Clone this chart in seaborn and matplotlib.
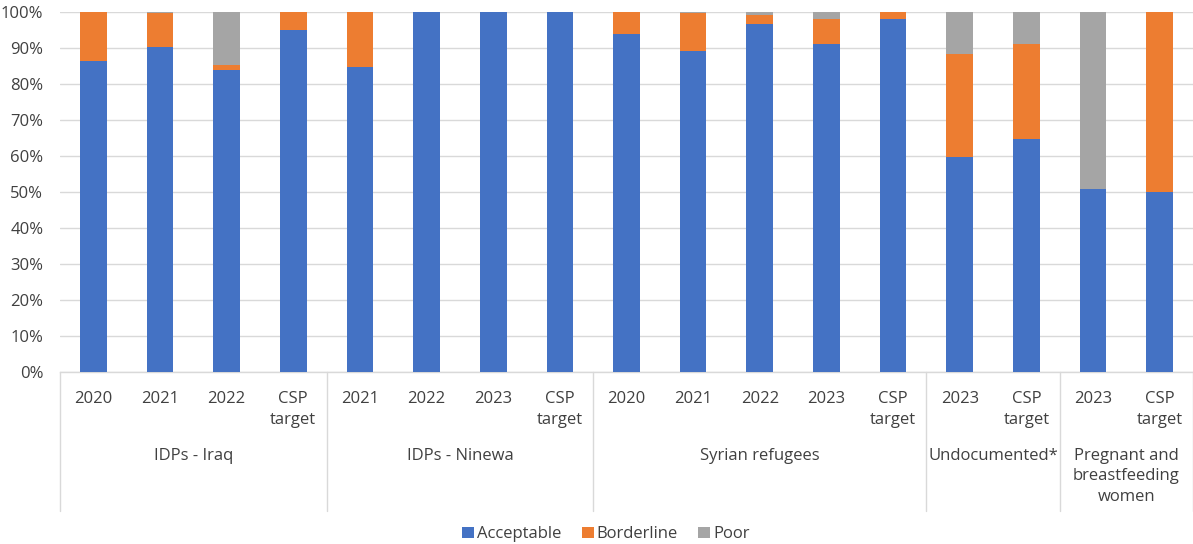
import matplotlib
matplotlib.use("Agg")
import matplotlib.pyplot as plt
import matplotlib.transforms as mtransforms
from matplotlib.patches import Patch
import numpy as np
import pandas as pd
import seaborn as sns

# ---- data ----
groups = ["IDPs - Iraq", "IDPs - Ninewa", "Syrian refugees", "Undocumented*",
          "Pregnant and\nbreastfeeding\nwomen"]
group_sizes = [4, 4, 5, 2, 2]
sub_labels = ["2020", "2021", "2022", "CSP\ntarget",
              "2021", "2022", "2023", "CSP\ntarget",
              "2020", "2021", "2022", "2023", "CSP\ntarget",
              "2023", "CSP\ntarget",
              "2023", "CSP\ntarget"]
acceptable = [86.4, 90.2, 83.9, 95.0,
              84.8, 100.0, 100.0, 100.0,
              93.8, 89.2, 96.7, 91.0, 98.0,
              59.6, 64.8,
              50.7, 49.9]
borderline = [13.6, 9.5, 1.4, 5.0,
              15.2, 0.0, 0.0, 0.0,
              6.2, 10.5, 2.5, 7.1, 2.0,
              28.7, 26.2,
              0.0, 50.1]
poor = [0.0, 0.3, 14.7, 0.0,
        0.0, 0.0, 0.0, 0.0,
        0.0, 0.3, 0.8, 1.9, 0.0,
        11.7, 9.0,
        49.3, 0.0]
series_names = ["Acceptable", "Borderline", "Poor"]
colors = ["#4472C4", "#ED7D31", "#A5A5A5"]
yticks = [0, 10, 20, 30, 40, 50, 60, 70, 80, 90, 100]

# ---- build frame ----
keys = [f"b{i:02d}" for i in range(len(sub_labels))]
df = pd.DataFrame({
    "key": keys,
    "Acceptable": acceptable,
    "Borderline": borderline,
    "Poor": poor,
})
df["cum_acc"] = df["Acceptable"]
df["cum_bord"] = df["Acceptable"] + df["Borderline"]
df["cum_poor"] = df["cum_bord"] + df["Poor"]

sns.set_theme(style="white")
plt.rcParams["font.family"] = ["Open Sans", "DejaVu Sans"]
text_color = "#404040"
fs = 12

fig = plt.figure(figsize=(11.93, 5.44), dpi=100)
ax = fig.add_axes([60 / 1193, 1 - 372 / 544, 1133 / 1193, 360 / 544])

for col, c in zip(["cum_poor", "cum_bord", "cum_acc"], colors[::-1]):
    sns.barplot(data=df, x="key", y=col, order=keys, color=c, width=0.4,
                saturation=1, ax=ax, linewidth=0, zorder=3)

ax.set_xlim(-0.5, len(keys) - 0.5)
ax.set_ylim(0, 100)
ax.set_yticks(yticks)
ax.set_yticklabels([f"{v}%" for v in yticks], fontsize=fs, color=text_color)
ax.yaxis.grid(True, color="#D9D9D9", linewidth=1, zorder=0)
ax.set_axisbelow(True)
ax.set_xlabel("")
ax.set_ylabel("")
ax.set_xticks(range(len(keys)))
ax.set_xticklabels(sub_labels, fontsize=fs, color=text_color, va="top",
                   linespacing=1.4)
ax.tick_params(axis="x", length=0, pad=14)
ax.tick_params(axis="y", length=0, pad=12)
for s in ["top", "right", "left"]:
    ax.spines[s].set_visible(False)
ax.spines["bottom"].set_color("#D9D9D9")
ax.spines["bottom"].set_linewidth(1)

trans = mtransforms.blended_transform_factory(ax.transData, ax.transAxes)
edges = np.concatenate([[0], np.cumsum(group_sizes)]) - 0.5
for e in edges:
    ax.plot([e, e], [0, -0.385], transform=trans, color="#D9D9D9",
            linewidth=1, clip_on=False)
for g, a, b in zip(groups, edges[:-1], edges[1:]):
    ax.text((a + b) / 2, -0.21, g, transform=trans, ha="center", va="top",
            fontsize=fs, color=text_color, linespacing=1.4)

handles = [Patch(facecolor=c, edgecolor="none", label=n)
           for n, c in zip(series_names, colors)]
fig.legend(handles=handles, loc="center", bbox_to_anchor=(0.508, 0.018),
           ncol=3, frameon=False, fontsize=fs, handlelength=0.7,
           handleheight=0.7, handletextpad=0.2, columnspacing=1.2,
           labelcolor=text_color)

fig.savefig("out.png", dpi=100)
